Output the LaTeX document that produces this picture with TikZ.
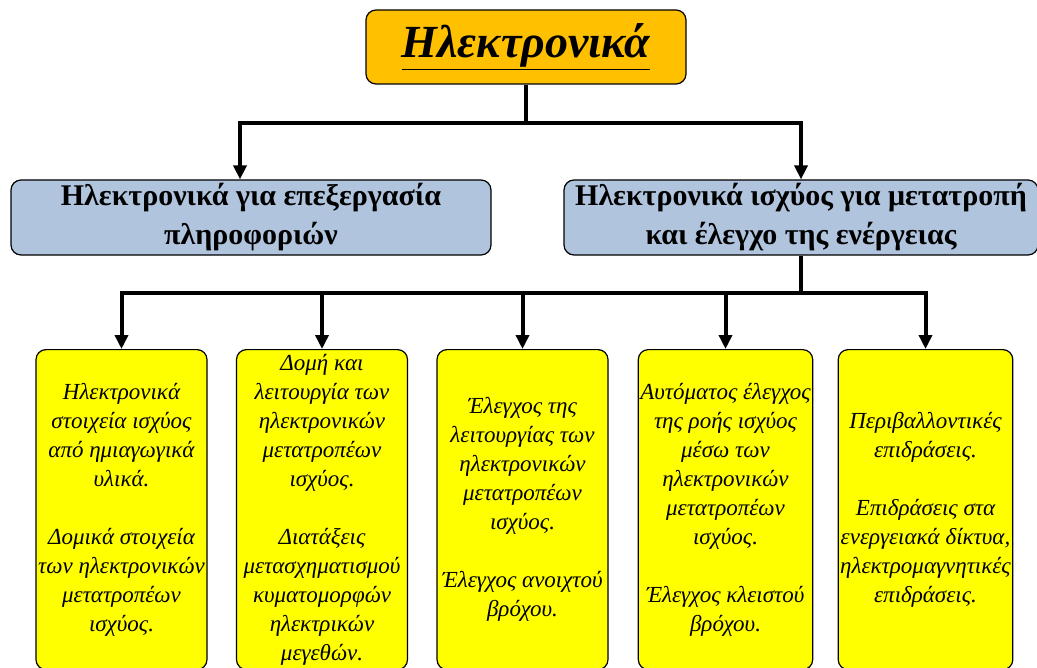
\documentclass[tikz,border=0pt]{standalone}
\usepackage{fontspec}
\setmainfont{Liberation Serif}
\usetikzlibrary{arrows.meta}
\definecolor{titleorange}{RGB}{255,192,0}
\definecolor{midblue}{RGB}{176,196,222}
\definecolor{leafyellow}{RGB}{255,255,0}
\tikzset{
% Three box styles, one for each level of the chart
top node/.style={draw,line width=0.6pt,rounded corners=5pt,fill=titleorange,minimum width=160pt,minimum height=37pt,font=\fontsize{23}{27}\selectfont\bfseries\itshape},
mid node/.style={draw,line width=0.6pt,rounded corners=5pt,fill=midblue,minimum height=37.5pt,inner sep=1pt,align=center,font=\fontsize{15}{19.5}\selectfont\bfseries},
leaf node/.style={draw,line width=0.6pt,rounded corners=5pt,fill=leafyellow,anchor=north,minimum width=85.5pt,minimum height=160pt,inner sep=1pt,align=center,font=\fontsize{11.5}{14.5}\selectfont\itshape},
% Thick connectors
branch/.style={line width=2pt},
arrow/.style={branch,-{Triangle[length=7pt,width=6.5pt]}}
}

\begin{document}
\begin{tikzpicture}[x=0.5pt,y=-0.5pt]
      \useasboundingbox (0,0) rectangle (1037,668);
      % Top of the chart
      \node(0)[top node] at (526,47) {\underline{Ηλεκτρονικά}};
      % Second level
      \node(1)[mid node,minimum width=240pt] at (251,217.5) {Ηλεκτρονικά για επεξεργασία\\πληροφοριών};
      \node(2)[mid node,minimum width=237pt] at (801,217.5) {Ηλεκτρονικά ισχύος για μετατροπή\\και έλεγχο της ενέργειας};
      % Third level, hanging from the right box
      \node(21)[leaf node] at (121.5,349) {Ηλεκτρονικά\\στοιχεία ισχύος\\από ημιαγωγικά\\υλικά.\\[14.5pt]Δομικά στοιχεία\\των ηλεκτρονικών\\μετατροπέων\\ισχύος.};
      \node(22)[leaf node] at (322,349) {Δομή και\\λειτουργία των\\ηλεκτρονικών\\μετατροπέων\\ισχύος.\\[14.5pt]Διατάξεις\\μετασχηματισμού\\κυματομορφών\\ηλεκτρικών\\μεγεθών.};
      \node(23)[leaf node] at (522.5,349) {Έλεγχος της\\λειτουργίας των\\ηλεκτρονικών\\μετατροπέων\\ισχύος.\\[14.5pt]Έλεγχος ανοιχτού\\βρόχου.};
      \node(24)[leaf node] at (725.5,349) {Αυτόματος έλεγχος\\της ροής ισχύος\\μέσω των\\ηλεκτρονικών\\μετατροπέων\\ισχύος.\\[14.5pt]Έλεγχος κλειστού\\βρόχου.};
      \node(25)[leaf node] at (925.5,349) {Περιβαλλοντικές\\επιδράσεις.\\[14.5pt]Επιδράσεις στα\\ενεργειακά δίκτυα,\\ηλεκτρομαγνητικές\\επιδράσεις.};
      % Connectors from the top box
      \draw[branch] (0.south) -- ++(0,38) coordinate (j0);
      \draw[arrow] (j0) -| ([xshift=-5.5pt]1.north);
      \draw[arrow] (j0) -| (2.north);
      % Connectors from the right box
      \draw[branch] (2.south) -- ++(0,37) coordinate (j2);
      \foreach \i in {1,...,5}
        \draw[arrow] (j2) -| (2\i.north);
\end{tikzpicture}
\end{document}
